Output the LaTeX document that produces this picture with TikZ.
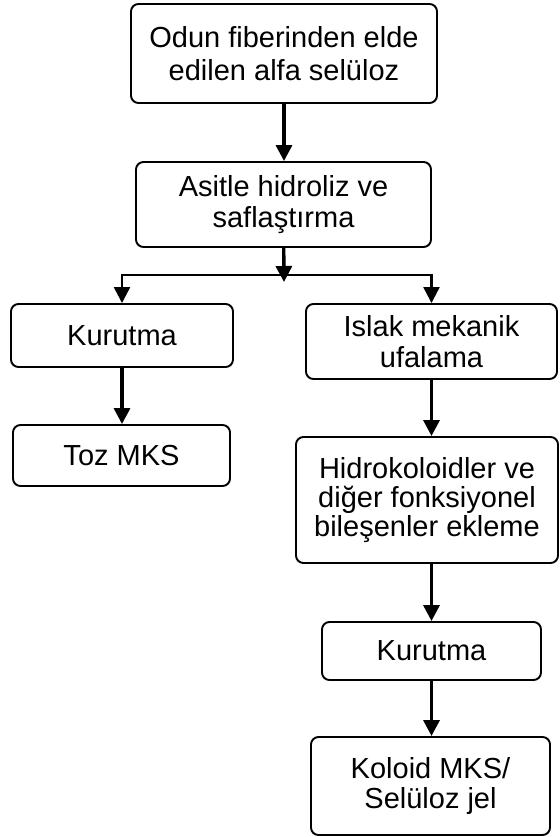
\documentclass[tikz,border=0pt]{standalone}
\usepackage{fontspec}
\setmainfont{Liberation Sans}
\usepackage{tikz}
\usetikzlibrary{arrows.meta}
\tikzset{box/.style={draw, line width=1.1pt, rounded corners=0.15cm, align=center, inner sep=0mm, font=\fontsize{16.5}{17.5}\selectfont},
    arr/.style={line width=1.9pt, -{Triangle[length=0.32cm, width=0.32cm]}},
    branch/.style={line width=1.3pt, -{Triangle[length=0.32cm, width=0.32cm]}},
    empty/.style={draw=none, fill=none, minimum size=0mm, inner sep=0mm}}

\begin{document}
\begin{tikzpicture}
    \useasboundingbox (0cm, 0cm) rectangle (11.2cm, -16.74cm);

    \node (odun) at (5.68cm, -1.07cm) [box, minimum width=6.12cm, minimum height=1.98cm, font=\fontsize{16.5}{18.5}\selectfont] {Odun fiberinden elde\\edilen alfa selüloz};
    \node (asit) at (5.67cm, -4.09cm) [box, minimum width=5.90cm, minimum height=1.70cm] {Asitle hidroliz ve\\saflaştırma};
    \node (kuru1) at (2.44cm, -6.71cm) [box, minimum width=4.44cm, minimum height=1.26cm] {Kurutma};
    \node (islak) at (8.63cm, -6.83cm) [box, minimum width=5.02cm, minimum height=1.50cm] {Islak mekanik\\ufalama};
    \node (toz) at (2.43cm, -9.11cm) [box, minimum width=4.34cm, minimum height=1.22cm] {Toz MKS};
    \node (hidro) at (8.54cm, -10.0cm) [box, minimum width=5.24cm, minimum height=2.52cm, font=\fontsize{16.5}{16.3}\selectfont] {Hidrokoloidler ve\\diğer fonksiyonel\\bileşenler ekleme};
    \node (kuru2) at (8.63cm, -13.02cm) [box, minimum width=4.38cm, minimum height=1.16cm] {Kurutma};
    \node (koloid) at (8.61cm, -15.72cm) [box, minimum width=4.78cm, minimum height=1.96cm] {Koloid MKS/\\Selüloz jel};

    \coordinate (split) at (5.68cm, -5.50cm);

    \draw[arr] (odun.south) -- (odun.south |- asit.north);
    \draw[arr] (asit) -- ([yshift=-0.14cm]split);
    \draw[branch] (split) -| (kuru1);
    \draw[branch] (split) -| (islak);
    \draw[arr] (kuru1.south) -- (kuru1.south |- toz.north);
    \draw[arr] (islak.south) -- (islak.south |- hidro.north);
    \draw[arr] (kuru2.north |- hidro.south) -- (kuru2.north);
    \draw[arr] (kuru2.south) -- (kuru2.south |- koloid.north);
\end{tikzpicture}
\end{document}
